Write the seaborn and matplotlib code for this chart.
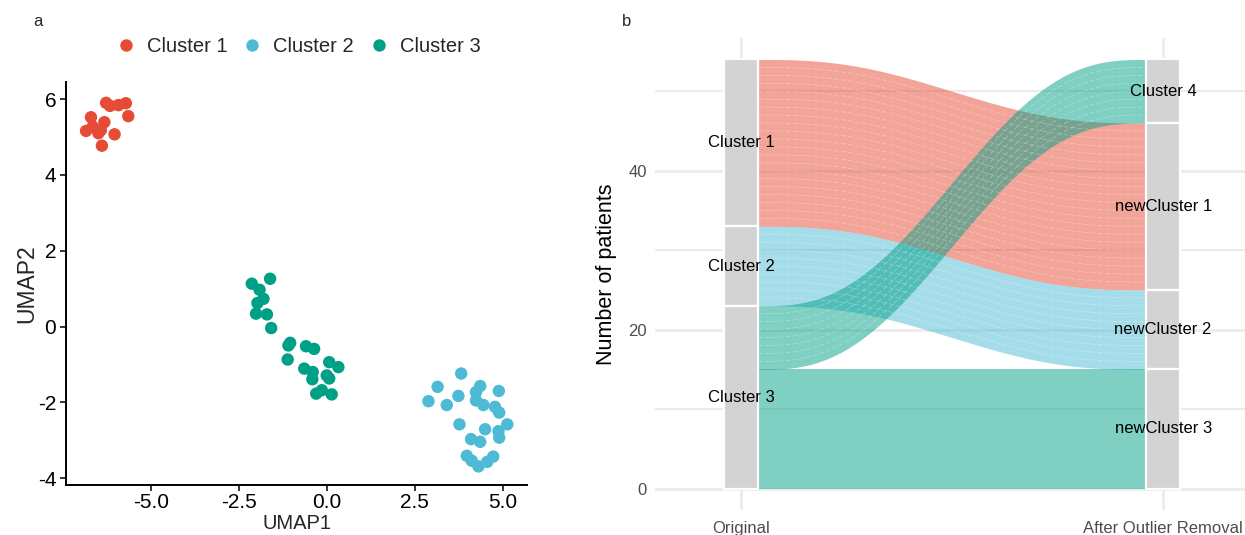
import numpy as np
import pandas as pd
import seaborn as sns
from matplotlib import pyplot as plt
from matplotlib.ticker import FormatStrFormatter

sns.set_style('white')
plt.rcParams['font.family'] = ['Liberation Sans', 'DejaVu Sans']
plt.rcParams['axes.unicode_minus'] = False

# Panel a: UMAP coordinates
c1_x = [-6.27, -6.16, -5.92, -5.71, -5.64, -6.70, -6.32, -6.65, -6.84, -6.49, -6.42, -6.03, -6.39]
c1_y = [5.90, 5.82, 5.84, 5.89, 5.55, 5.52, 5.39, 5.27, 5.16, 5.10, 5.18, 5.07, 4.77]
c2_x = [3.82, 3.15, 2.89, 3.41, 3.74, 4.36, 4.24, 4.24, 4.45, 4.89, 4.78, 4.90,
        5.13, 4.88, 4.90, 3.77, 4.50, 4.10, 4.36, 3.98, 4.12, 4.31, 4.56, 4.73]
c2_y = [-1.24, -1.59, -1.97, -2.07, -1.83, -1.57, -1.73, -1.95, -2.07, -1.70, -2.12, -2.27,
        -2.58, -2.76, -2.93, -2.58, -2.71, -2.97, -3.04, -3.41, -3.54, -3.69, -3.57, -3.43]
c3_x = [-2.13, -1.61, -1.91, -1.80, -1.97, -2.01, -1.70, -1.58, -1.04, -1.09, -0.59, -0.36,
        -1.11, -0.64, -0.40, 0.07, 0.33, 0.00, 0.07, -0.41, -0.30, -0.14, 0.14]
c3_y = [1.13, 1.26, 0.97, 0.73, 0.62, 0.34, 0.32, -0.04, -0.43, -0.50, -0.52, -0.59,
        -0.87, -1.11, -1.20, -0.94, -1.07, -1.29, -1.37, -1.39, -1.77, -1.68, -1.79]

cluster_names = ['Cluster 1', 'Cluster 2', 'Cluster 3']
cluster_colors = ['#E64B35', '#4DBBD5', '#00A087']

# Panel b: patient flows between the two clusterings
left_order = ['Cluster 1', 'Cluster 2', 'Cluster 3']  # top to bottom
right_order = ['Cluster 4', 'newCluster 1', 'newCluster 2', 'newCluster 3']
flow_from = ['Cluster 1', 'Cluster 2', 'Cluster 3', 'Cluster 3']
flow_to = ['newCluster 1', 'newCluster 2', 'Cluster 4', 'newCluster 3']
flow_n = [21, 10, 8, 15]
axis_labels = ['Original', 'After Outlier Removal']

df = pd.DataFrame({
    'UMAP1': c1_x + c2_x + c3_x,
    'UMAP2': c1_y + c2_y + c3_y,
    'cluster': ['Cluster 1'] * len(c1_x) + ['Cluster 2'] * len(c2_x) + ['Cluster 3'] * len(c3_x),
})

fig = plt.figure(figsize=(12.45, 5.35), dpi=100)
ax1 = fig.add_axes([66 / 1245, 50 / 535, 461 / 1245, 403 / 535])
ax2 = fig.add_axes([655 / 1245, 25 / 535, 590 / 1245, 472 / 535])

# ---- panel a
sns.scatterplot(data=df, x='UMAP1', y='UMAP2', hue='cluster', hue_order=cluster_names,
                palette=cluster_colors, s=80, linewidth=0, ax=ax1, legend=True)
handles, labels = ax1.get_legend_handles_labels()
ax1.get_legend().remove()
fig.legend(handles, labels, loc='center', bbox_to_anchor=(298 / 1245, 1 - 47 / 535), ncol=3,
           frameon=False, fontsize=14.5, handlelength=1.0, handletextpad=0.55,
           columnspacing=0.73, markerscale=1.0)

ax1.set_xlim(-7.41, 5.69)
ax1.set_ylim(-4.18, 6.45)
ax1.set_xticks([-5.0, -2.5, 0.0, 2.5, 5.0])
ax1.set_yticks([-4, -2, 0, 2, 4, 6])
ax1.xaxis.set_major_formatter(FormatStrFormatter('%.1f'))
sns.despine(ax=ax1)
for side in ['left', 'bottom']:
    ax1.spines[side].set_linewidth(1.4)
    ax1.spines[side].set_color('black')
ax1.tick_params(axis='both', length=4, width=1.1, color='black', labelsize=15,
                labelcolor='black', pad=3, left=True, bottom=True)
ax1.tick_params(axis='x', pad=2)
ax1.set_xlabel('UMAP1', fontsize=14.5)
ax1.set_ylabel('UMAP2', fontsize=16.5)
ax1.xaxis.set_label_coords(0.5, (485 - 514) / 403)
ax1.xaxis.label.set_va('top')
ax1.yaxis.set_label_coords(-0.085, 0.5)
ax1.yaxis.label.set_va('center')

# ---- panel b
half_w = 0.04
total = sum(flow_n)


def stack(order, side_of):
    # cumulative bottoms, first item on top
    counts = {k: 0 for k in order}
    for f, t, n in zip(flow_from, flow_to, flow_n):
        counts[f if side_of == 'left' else t] += n
    bottoms = {}
    top = total
    for k in order:
        bottoms[k] = top - counts[k]
        top -= counts[k]
    return counts, bottoms


left_counts, left_bottoms = stack(left_order, 'left')
right_counts, right_bottoms = stack(right_order, 'right')

# position of each flow inside its strata
left_cursor = {k: left_bottoms[k] + left_counts[k] for k in left_order}
right_cursor = {k: right_bottoms[k] + right_counts[k] for k in right_order}
flows = []
for i in sorted(range(len(flow_n)), key=lambda j: (left_order.index(flow_from[j]), right_order.index(flow_to[j]))):
    f, t, n = flow_from[i], flow_to[i], flow_n[i]
    yl = left_cursor[f] - n
    left_cursor[f] = yl
    flows.append([f, t, n, yl])
for fl in sorted(flows, key=lambda r: (right_order.index(r[1]), left_order.index(r[0]))):
    yr = right_cursor[fl[1]] - fl[2]
    right_cursor[fl[1]] = yr
    fl.append(yr)

xl, xr = 1 + half_w, 2 - half_w
xs = np.linspace(xl, xr, 200)
tt = (xs - xl) / (xr - xl)
ss = 6 * tt ** 5 - 15 * tt ** 4 + 10 * tt ** 3
color_of = dict(zip(cluster_names, cluster_colors))

for f, t, n, yl, yr in flows:
    ybot = yl + (yr - yl) * ss
    ax2.fill_between(xs, ybot, ybot + n, color=color_of[f], alpha=0.5, linewidth=0, zorder=2)
    if yl != yr:
        for k in range(1, n):
            ax2.plot(xs, ybot + k, color='white', lw=0.5, alpha=0.35,
                     linestyle=(0, (7, 3)), zorder=2.5)

for pos, order, counts, bottoms in [(1, left_order, left_counts, left_bottoms),
                                    (2, right_order, right_counts, right_bottoms)]:
    for k in order:
        ax2.bar(pos, counts[k], bottom=bottoms[k], width=2 * half_w, color='#D3D3D3',
                edgecolor='white', linewidth=1.6, zorder=3)
        ax2.text(pos, bottoms[k] + counts[k] / 2, k, ha='center', va='center',
                 fontsize=12, color='black', zorder=4)

ax2.set_xlim(0.796, 2.194)
ax2.set_ylim(-2.7, 56.7)
ax2.set_xticks([1, 2])
ax2.set_xticklabels(axis_labels)
ax2.set_yticks([0, 20, 40])
ax2.set_yticks([10, 30, 50], minor=True)
ax2.set_axisbelow(True)
ax2.grid(which='major', color='#EBEBEB', linewidth=1.9)
ax2.grid(which='minor', axis='y', color='#EBEBEB', linewidth=1.4)
for side in ax2.spines.values():
    side.set_visible(False)
ax2.tick_params(axis='both', which='both', length=0, labelsize=12, labelcolor='#4D4D4D')
ax2.tick_params(axis='x', pad=8)
ax2.tick_params(axis='y', pad=6)
ax2.set_ylabel('Number of patients', fontsize=15.5, color='black')
ax2.yaxis.set_label_coords(-0.0814, 0.5)
ax2.yaxis.label.set_va('center')
ax2.set_xlabel('')

fig.text(38 / 1245, 1 - 22 / 535, 'a', fontsize=12, ha='center', va='center')
fig.text(627 / 1245, 1 - 22 / 535, 'b', fontsize=12, ha='center', va='center')

fig.savefig('out.png', dpi=100)
